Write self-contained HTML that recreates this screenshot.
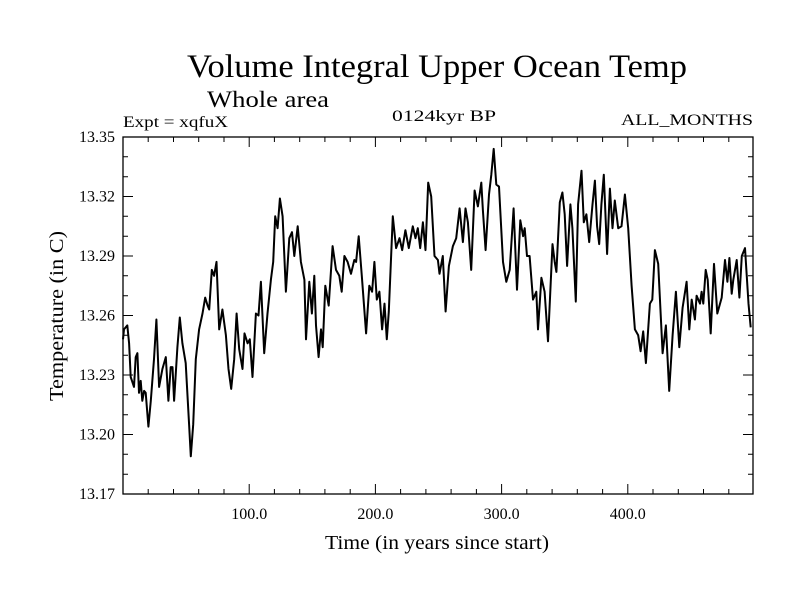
<!DOCTYPE html>
<html><head><meta charset="utf-8"><title>Volume Integral Upper Ocean Temp</title>
<style>html,body{margin:0;padding:0;background:#fff;}svg{display:block;font-family:"Liberation Serif",serif;}</style>
</head><body>
<svg id="chart" width="800" height="600" viewBox="0 0 800 600">
<text x="437" y="77" font-size="33" text-anchor="middle" textLength="500" lengthAdjust="spacingAndGlyphs">Volume Integral Upper Ocean Temp</text>
<text x="268" y="107" font-size="23" text-anchor="middle" textLength="122" lengthAdjust="spacingAndGlyphs">Whole area</text>
<text x="123" y="127" font-size="16" textLength="105" lengthAdjust="spacingAndGlyphs">Expt = xqfuX</text>
<text x="444" y="121" font-size="16" text-anchor="middle" textLength="104" lengthAdjust="spacingAndGlyphs">0124kyr BP</text>
<text x="753" y="125" font-size="16" text-anchor="end" textLength="132" lengthAdjust="spacingAndGlyphs">ALL_MONTHS</text>
<text x="437" y="549" font-size="20" text-anchor="middle" textLength="224" lengthAdjust="spacingAndGlyphs">Time (in years since start)</text>
<text transform="translate(63,316) rotate(-90)" font-size="20" text-anchor="middle" textLength="170" lengthAdjust="spacingAndGlyphs">Temperature (in C)</text>
<g id="axes"></g>
<path id="series" fill="none" stroke="#000" stroke-width="2" stroke-linejoin="round"/>
</svg>
<script>
const years = [0,0.8,3.4,4.8,6.1,8.7,10.1,11.4,12.7,14.0,15.3,16.7,18.0,20.1,22.0,24.6,26.5,28.6,31.2,33.9,36.0,37.8,39.2,40.5,43.1,45.0,47.1,49.7,52.4,53.7,55.6,57.7,60.3,63.0,65.1,67.0,68.3,70.4,72.2,74.1,76.2,78.8,81.5,83.6,85.7,88.1,90.0,92.1,94.7,96.3,98.7,100.5,102.6,105.3,107.4,109.3,111.9,114.5,117.2,119.0,120.6,122.5,124.3,126.5,129.1,131.8,133.9,135.7,138.4,141.0,143.7,145.0,147.6,149.7,151.6,152.9,155.0,156.9,158.2,160.3,163.0,166.1,168.8,171.4,173.3,175.4,178.0,180.7,183.3,184.7,186.8,189.2,192.6,195.2,197.4,199.2,201.1,203.2,205.3,207.2,209.0,210.6,213.8,216.4,219.1,221.2,223.8,226.5,229.6,231.8,233.6,235.5,237.6,239.7,241.8,244.2,246.8,249.5,250.8,253.4,255.6,258.2,261.4,264.0,266.7,269.3,271.4,273.3,275.9,278.6,281.2,283.9,285.2,287.3,290.0,291.8,293.7,295.8,297.9,301.1,303.7,306.4,309.5,312.2,314.8,317.0,318.3,320.1,322.2,324.9,327.5,328.8,331.5,334.1,336.8,340.3,342.1,343.4,346.1,348.2,350.0,351.9,354.5,356.1,358.8,360.6,363.3,365.1,367.2,369.4,372.0,373.9,375.7,377.3,379.1,381.0,383.6,385.8,387.9,389.7,392.4,395.0,397.7,400.3,403.0,405.6,408.2,410.1,412.2,414.3,417.5,419.4,421.5,424.1,427.6,430.2,432.8,435.5,438.1,440.8,443.4,446.6,448.7,450.6,453.2,454.5,457.2,458.5,459.8,461.7,463.3,465.7,468.3,470.9,474.4,477.0,478.9,480.5,482.3,483.6,486.3,488.4,490.3,492.9,495.6,497.4];
const temps = [13.248,13.253,13.255,13.246,13.229,13.224,13.239,13.241,13.221,13.227,13.217,13.222,13.221,13.204,13.217,13.238,13.258,13.224,13.233,13.239,13.217,13.234,13.234,13.217,13.244,13.259,13.246,13.236,13.205,13.189,13.205,13.238,13.253,13.261,13.269,13.265,13.263,13.283,13.280,13.287,13.253,13.263,13.250,13.233,13.223,13.238,13.261,13.243,13.233,13.251,13.246,13.248,13.229,13.261,13.260,13.277,13.241,13.261,13.278,13.287,13.310,13.304,13.319,13.310,13.272,13.299,13.302,13.290,13.305,13.287,13.278,13.248,13.277,13.261,13.280,13.255,13.239,13.253,13.244,13.275,13.265,13.295,13.283,13.280,13.272,13.290,13.287,13.281,13.288,13.287,13.300,13.280,13.251,13.275,13.272,13.287,13.268,13.272,13.253,13.266,13.248,13.262,13.310,13.294,13.299,13.293,13.303,13.294,13.305,13.299,13.304,13.294,13.307,13.293,13.327,13.320,13.290,13.288,13.281,13.290,13.262,13.285,13.295,13.299,13.314,13.297,13.314,13.307,13.283,13.323,13.315,13.327,13.313,13.293,13.321,13.331,13.344,13.326,13.325,13.287,13.277,13.283,13.314,13.273,13.308,13.300,13.304,13.290,13.290,13.268,13.272,13.253,13.279,13.272,13.247,13.296,13.287,13.282,13.317,13.322,13.311,13.285,13.316,13.304,13.267,13.316,13.333,13.307,13.311,13.297,13.316,13.328,13.305,13.296,13.316,13.331,13.291,13.324,13.304,13.318,13.304,13.305,13.321,13.304,13.275,13.253,13.250,13.242,13.252,13.236,13.266,13.268,13.293,13.286,13.241,13.255,13.222,13.250,13.272,13.244,13.264,13.277,13.253,13.268,13.258,13.270,13.266,13.272,13.266,13.283,13.278,13.251,13.286,13.261,13.269,13.288,13.277,13.289,13.271,13.278,13.288,13.269,13.290,13.294,13.266,13.254];
const xTicks = [100,200,300,400];
const xTickLabels = ["100.0","200.0","300.0","400.0"];
const yTicks = [13.17,13.20,13.23,13.26,13.29,13.32,13.35];
const yTickLabels = ["13.17","13.20","13.23","13.26","13.29","13.32","13.35"];

const L=123,R=753,T=137,B=494,XMIN=0,XMAX=499.2,YMIN=13.17,YMAX=13.35;
function sx(v){return L+(v-XMIN)/(XMAX-XMIN)*(R-L);}
function sy(v){return B-(v-YMIN)/(YMAX-YMIN)*(B-T);}
const NS="http://www.w3.org/2000/svg";
const ax=document.getElementById('axes');
function mk(tag,attrs){const e=document.createElementNS(NS,tag);for(const k in attrs)e.setAttribute(k,attrs[k]);ax.appendChild(e);return e;}
let d="";
for(let v=20;v<XMAX;v+=20){const x=sx(v).toFixed(1);const len=(v%100===0)?10:5;d+=`M${x} ${B}v${-len}M${x} ${T}v${len}`;}
for(let i=0;i<=18;i++){const v=YMIN+i*0.01;const y=sy(v).toFixed(1);const len=(i%3===0)?10:5;d+=`M${L} ${y}h${len}M${R} ${y}h${-len}`;}
const tk=mk('path',{d:d,stroke:'#000','stroke-width':1,fill:'none'});


const fr=mk('rect',{x:L,y:T,width:R-L,height:B-T,fill:'none',stroke:'#000','stroke-width':1.3});


xTicks.forEach((v,i)=>{const t=mk('text',{x:sx(v),y:B+25,'font-size':16,'text-anchor':'middle'});t.textContent=xTickLabels[i];

});
yTicks.forEach((v,i)=>{const t=mk('text',{x:115,y:sy(v)+5,'font-size':16,'text-anchor':'end'});t.textContent=yTickLabels[i];

});
let p="";years.forEach((y,i)=>{p+=(i?"L":"M")+sx(y).toFixed(1)+" "+sy(temps[i]).toFixed(1);});
document.getElementById('series').setAttribute('d',p);
</script>
</body></html>
